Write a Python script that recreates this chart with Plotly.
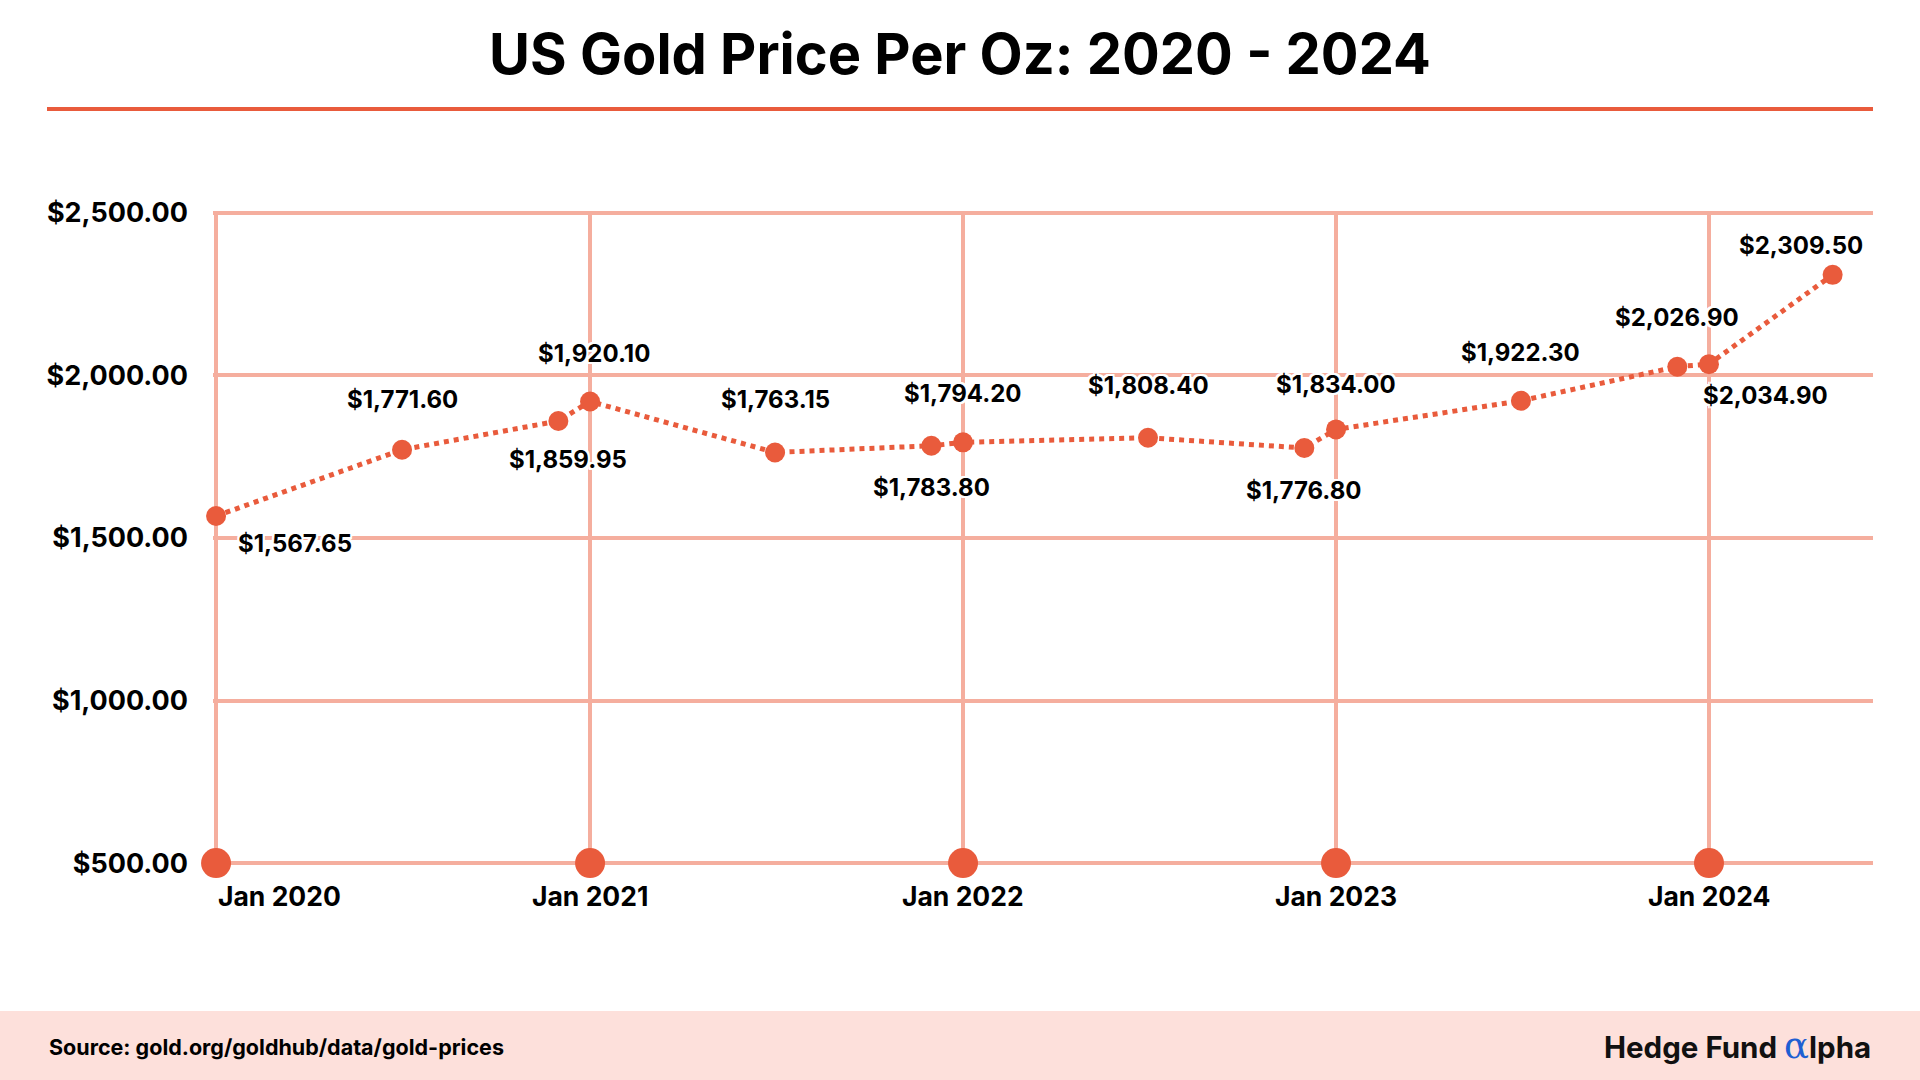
import plotly.graph_objects as go

# ---------------- data ----------------
dates = ["2020-01-01", "2020-07-01", "2020-12-01", "2021-01-01", "2021-07-01",
         "2021-12-01", "2022-01-01", "2022-07-01", "2022-12-01", "2023-01-01",
         "2023-07-01", "2023-12-01", "2024-01-01", "2024-05-01"]
prices = [1567.65, 1771.60, 1859.95, 1920.10, 1763.15,
          1783.80, 1794.20, 1808.40, 1776.80, 1834.00,
          1922.30, 2026.90, 2034.90, 2309.50]
year_ticks = ["2020-01-01", "2021-01-01", "2022-01-01", "2023-01-01", "2024-01-01"]
year_labels = ["Jan 2020", "Jan 2021", "Jan 2022", "Jan 2023", "Jan 2024"]
y_ticks = [500, 1000, 1500, 2000, 2500]

title_text = "US Gold Price Per Oz: 2020 - 2024"
source_text = "Source: gold.org/goldhub/data/gold-prices"

# ---------------- style ----------------
W, H = 1920, 1080
ML, MR, MT, MB = 213, 47, 211, 215
PW, PH = W - ML - MR, H - MT - MB
ORANGE = "#E95B3C"
GRID = "#F5AE9E"
PINK = "#FDE0DB"
FONT = "Inter, Roboto, sans-serif"

# label placement (xshift, yshift, xanchor) per point
label_style = [(20, -27, "left"), (0, 50, "center"), (10, -38, "center"), (4, 48, "center"),
               (0, 53, "center"), (0, -42, "center"), (0, 49, "center"), (0, 52, "center"),
               (0, -42, "center"), (0, 45, "center"), (0, 48, "center"), (0, 49, "center"),
               (-8, -31, "left"), (-32, 29, "center")]


def px_x(p):
    return (p - ML) / PW


def px_y(p):
    return (H - MB - p) / PH


fig = go.Figure()

# axis markers at each year
fig.add_trace(go.Scatter(
    x=year_ticks, y=[y_ticks[0]] * len(year_ticks), mode="markers",
    marker=dict(size=30, color=ORANGE), cliponaxis=False, hoverinfo="skip",
    showlegend=False))

# main series
fig.add_trace(go.Scatter(
    x=dates, y=prices, mode="lines+markers",
    line=dict(color=ORANGE, width=5, dash="dot"),
    marker=dict(size=20, color=ORANGE), cliponaxis=False, showlegend=False))

halo = "2px 0 0 #fff, -2px 0 0 #fff, 0 2px 0 #fff, 0 -2px 0 #fff, 2px 2px 0 #fff, -2px -2px 0 #fff, 2px -2px 0 #fff, -2px 2px 0 #fff"

annotations = []
for d, v, (dx, dy, xa) in zip(dates, prices, label_style):
    annotations.append(dict(
        x=d, y=v, xref="x", yref="y", text="${:,.2f}".format(v), showarrow=False,
        xanchor=xa, yanchor="middle", xshift=dx, yshift=dy,
        font=dict(family=FONT, size=24, color="#000", weight=700, shadow=halo)))

for i, (d, lab) in enumerate(zip(year_ticks, year_labels)):
    annotations.append(dict(
        x=d, y=0, xref="x", yref="paper", text=lab, showarrow=False,
        xanchor="left" if i == 0 else "center", yanchor="middle", yshift=-31,
        font=dict(family=FONT, size=26.5, color="#000", weight=700)))

annotations.append(dict(
    x=px_x(47), y=px_y(1047), xref="paper", yref="paper", text=source_text,
    showarrow=False, xanchor="left", yanchor="middle",
    font=dict(family=FONT, size=21.5, color="#000", weight=700)))

annotations.append(dict(
    x=px_x(1873), y=px_y(1045), xref="paper", yref="paper",
    text="Hedge Fund <span style='color:#1E5FD2;font-family:DejaVu Serif;font-size:37px;font-weight:400'>α</span>lpha",
    showarrow=False, xanchor="right", yanchor="middle",
    font=dict(family=FONT, size=29.5, color="#111", weight=700)))

shapes = [
    dict(type="rect", xref="paper", yref="paper", x0=px_x(0), x1=px_x(W),
         y0=px_y(1011), y1=px_y(H), fillcolor=PINK, line=dict(width=0), layer="below"),
    dict(type="line", xref="paper", yref="paper", x0=px_x(47), x1=px_x(1873),
         y0=px_y(109), y1=px_y(109), line=dict(color=ORANGE, width=4)),
]

fig.update_layout(
    width=W, height=H,
    margin=dict(l=ML, r=MR, t=MT, b=MB, autoexpand=False),
    paper_bgcolor="#fff", plot_bgcolor="#fff",
    title=dict(text=title_text, x=0.5, xanchor="center", xref="container",
               y=1 - 54 / H, yanchor="middle", yref="container",
               font=dict(family=FONT, size=56, color="#000", weight=700)),
    xaxis=dict(type="date", range=["2019-12-29", "2024-06-09 12:00"],
               tickvals=year_ticks, showticklabels=False, showgrid=True,
               gridcolor=GRID, gridwidth=3.5, zeroline=False, showline=False,
               ticks=""),
    yaxis=dict(range=[494, 2506], tickvals=y_ticks, tickformat="$,.2f",
               showgrid=True, gridcolor=GRID, gridwidth=4, zeroline=False,
               showline=False, ticks="", ticklabelstandoff=24,
               tickfont=dict(family=FONT, size=27, color="#000", weight=700)),
    annotations=annotations, shapes=shapes, showlegend=False,
)

fig.write_html("out.html", config={"displayModeBar": False},
               post_script="document.body.style.margin='0';document.body.style.overflow='hidden';")
